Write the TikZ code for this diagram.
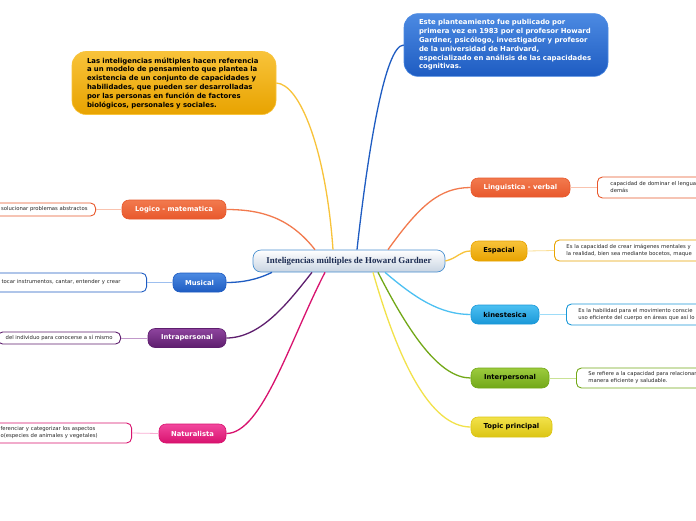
\documentclass[tikz,border=0pt]{standalone}
\usepackage{fontspec}
\setmainfont{DejaVu Sans}
\newfontfamily\centerfont{Liberation Serif}
\usetikzlibrary{calc}
\definecolor{cOrR}{HTML}{E8582C}
\definecolor{cOrRt}{HTML}{F27A4E}
\definecolor{cAmb}{HTML}{E8A300}
\definecolor{cAmbt}{HTML}{F8C33A}
\definecolor{cLbl}{HTML}{1A98D8}
\definecolor{cLblt}{HTML}{4CC0F2}
\definecolor{cGrn}{HTML}{72A818}
\definecolor{cGrnt}{HTML}{9CCB3E}
\definecolor{cYel}{HTML}{DCC514}
\definecolor{cYelt}{HTML}{F2E24A}
\definecolor{cBlu}{HTML}{1E5CC2}
\definecolor{cBlut}{HTML}{4C8AE2}
\definecolor{cPur}{HTML}{5E1E6E}
\definecolor{cPurt}{HTML}{8E449E}
\definecolor{cPnk}{HTML}{D8126E}
\definecolor{cPnkt}{HTML}{F2489E}
\definecolor{cNavy}{HTML}{1C2C52}
\begin{document}
\begin{tikzpicture}[x=1pt,y=-1pt,
  branch/.style={rounded corners=7pt, line width=0.6pt, inner sep=0pt,
    minimum height=19pt, font=\bfseries\fontsize{6.8}{8}\selectfont},
  callout/.style={rounded corners=14pt, line width=0.6pt, inner xsep=15pt, inner ysep=6pt,
    align=left, text width=174pt, font=\bfseries\fontsize{6.9}{8.8}\selectfont},
  detail/.style={rounded corners=5pt, line width=0.9pt, fill=white, inner ysep=1.5pt,
    align=left, font=\fontsize{5.3}{7}\selectfont, text=black!85},
  link/.style={line width=1.3pt},
  sublink/.style={line width=0.8pt}
]
\useasboundingbox (0,0) rectangle (696,520);
\clip (0,0) rectangle (696,520);
\fill[white] (0,0) rectangle (696,520);

% central topic
\node[rounded corners=8pt, draw={rgb,255:red,74;green,144;blue,208}, line width=0.7pt,
  top color=white, bottom color={rgb,255:red,200;green,212;blue,226},
  minimum width=192pt, minimum height=22pt, inner sep=0pt,
  font=\centerfont\bfseries\fontsize{8.9}{10}\selectfont, text=cNavy]
  (c) at (349,261) {Inteligencias múltiples de Howard Gardner};

% callouts
\node[callout, draw=cAmbt, top color=cAmbt, bottom color=cAmb, text=black,
  minimum width=204pt, minimum height=62pt] (orange) at (174,83)
  {Las inteligencias múltiples hacen referencia\\
   a un modelo de pensamiento que plantea la\\
   existencia de un conjunto de capacidades y\\
   habilidades, que pueden ser desarrolladas\\
   por las personas en función de factores\\
   biológicos, personales y sociales.};
\node[callout, draw=cBlut, top color=cBlut, bottom color=cBlu, text=white,
  minimum width=204pt, minimum height=62pt] (blue) at (506,45)
  {Este planteamiento fue publicado por\\
   primera vez en 1983 por el profesor Howard\\
   Gardner, psicólogo, investigador y profesor\\
   de la universidad de Hardvard,\\
   especializado en análisis de las capacidades\\
   cognitivas.};

% right branches
\node[branch, draw=cOrR, top color=cOrRt, bottom color=cOrR, text=white,
  minimum width=99pt] (lv) at (520.5,187.5) {Linguistica - verbal};
\node[branch, draw=cAmb, top color=cAmbt, bottom color=cAmb, text=black,
  minimum width=56pt, minimum height=20pt] (es) at (499,251) {Espacial};
\node[branch, draw=cLbl, top color=cLblt, bottom color=cLbl, text=black,
  minimum width=68pt] (ki) at (505,314.5) {kinestesica};
\node[branch, draw=cGrn, top color=cGrnt, bottom color=cGrn, text=black,
  minimum width=78pt, minimum height=20pt] (ie) at (510,378) {Interpersonal};
\node[branch, draw=cYel, top color=cYelt, bottom color=cYel, text=black,
  minimum width=81pt, minimum height=20pt] (tp) at (511.5,427) {Topic principal};

% left branches
\node[branch, draw=cOrR, top color=cOrRt, bottom color=cOrR, text=white,
  minimum width=104pt] (lm) at (174,209.5) {Logico - matematica};
\node[branch, draw=cBlu, top color=cBlut, bottom color=cBlu, text=white,
  minimum width=53pt] (mu) at (199.5,282.5) {Musical};
\node[branch, draw=cPur, top color=cPurt, bottom color=cPur, text=white,
  minimum width=78pt] (ia) at (187,338) {Intrapersonal};
\node[branch, draw=cPnk, top color=cPnkt, bottom color=cPnk, text=white,
  minimum width=67pt] (na) at (192.5,433.5) {Naturalista};

% right detail boxes
\node[detail, draw=cOrR, anchor=west, inner xsep=13pt, text width=140pt,
  minimum height=21pt] (dlv) at (597,187.5) {capacidad de dominar el lengua\\demás};
\node[detail, draw=cAmb, anchor=west, inner xsep=12pt, text width=150pt,
  minimum height=21pt] (des) at (554,250.5)
  {Es la capacidad de crear imágenes mentales y\\la realidad, bien sea mediante bocetos, maque};
\node[detail, draw=cLbl, anchor=west, inner xsep=12pt, text width=140pt,
  minimum height=21pt] (dki) at (566,314.5)
  {Es la habilidad para el movimiento conscie\\uso eficiente del cuerpo en áreas que así lo};
\node[detail, draw=cGrn, anchor=west, inner xsep=12pt, text width=130pt,
  minimum height=20pt] (die) at (576,378)
  {Se refiere a la capacidad para relacionar\\manera eficiente y saludable.};

% left detail boxes
\node[detail, draw=cOrR, anchor=east, inner xsep=8pt, inner ysep=0pt,
  minimum height=13pt] (dlm) at (96,209.5) {solucionar problemas abstractos};
\node[detail, draw=cBlu, anchor=east, inner xsep=8pt, text width=137pt,
  minimum height=19pt] (dmu) at (147,282.5) {tocar instrumentos, cantar, entender y crear};
\node[detail, draw=cPur, anchor=east, inner xsep=8pt, inner ysep=0pt,
  minimum height=12pt] (dia) at (121,338) {del individuo para conocerse a sí mismo};
\node[detail, draw=cPnk, anchor=east, inner xsep=8pt, text width=123pt,
  minimum height=20pt] (dna) at (132,433)
  {ferenciar y categorizar los aspectos\\o(especies de animales y vegetales)};

% main connectors
\draw[link, color=cAmbt] ($(c.north)+(-16,0)$) .. controls (326,150) and (300,84) .. (orange.east);
\draw[link, color=cBlu] ($(c.north)+(8,0)$) .. controls (368,150) and (385,45) .. (blue.west);
\draw[link, color=cOrRt] ($(c.north)+(39,0)$) .. controls (420,205) and (440,187.5) .. (lv.west);
\draw[link, color=cAmbt] (c.east) .. controls (458,258) and (460,251) .. (es.west);
\draw[link, color=cLblt] ($(c.south)+(36,0)$) .. controls (415,298) and (440,314.5) .. (ki.west);
\draw[link, color=cGrn] ($(c.south)+(29,0)$) .. controls (410,335) and (440,378) .. (ie.west);
\draw[link, color=cYelt] ($(c.south)+(24,0)$) .. controls (398,360) and (430,427) .. (tp.west);
\draw[link, color=cOrRt] ($(c.north)+(-34,0)$) .. controls (290,218) and (262,209.5) .. (lm.east);
\draw[link, color=cBlu] ($(c.south)+(-77,0)$) .. controls (256,280) and (242,282.5) .. (mu.east);
\draw[link, color=cPur] ($(c.south)+(-37,0)$) .. controls (290,300) and (262,338) .. (ia.east);
\draw[link, color=cPnk] ($(c.south)+(-24,0)$) .. controls (290,340) and (262,433.5) .. (na.east);

% sub connectors
\draw[sublink, color=cOrRt!45] (lv.east) -- (dlv.west);
\draw[sublink, color=cAmbt!55] (es.east) -- (des.west);
\draw[sublink, color=cLblt!55] (ki.east) -- (dki.west);
\draw[sublink, color=cGrnt!55] (ie.east) -- (die.west);
\draw[sublink, color=cOrRt!45] (lm.west) -- (dlm.east);
\draw[sublink, color=cBlut!55] (mu.west) -- (dmu.east);
\draw[sublink, color=cPurt!55] (ia.west) -- (dia.east);
\draw[sublink, color=cPnkt!45] (na.west) -- (dna.east);
\end{tikzpicture}
\end{document}
